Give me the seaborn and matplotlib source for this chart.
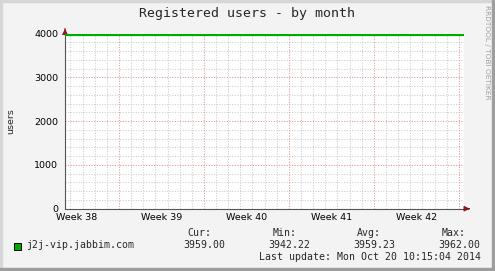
import matplotlib
matplotlib.use("Agg")
import matplotlib.pyplot as plt
import seaborn as sns
import pandas as pd
import numpy as np
from matplotlib.patches import Rectangle

# ---- data (days relative to Mon 2014-09-22 00:00) ----
avg_days = [-4.45, -3.0, -1.0, 1.0, 4.0, 7.0, 10.0, 13.0, 15.5, 17.0, 20.0, 23.0, 24.5, 26.0, 28.43]
avg_vals = [3956, 3957, 3958, 3958, 3958, 3959, 3959, 3960, 3960, 3960, 3960, 3961, 3962, 3960, 3959]

max_days = [-4.45, 15.40, 15.60, 16.70, 16.90, 24.40, 24.95, 28.43]
max_vals = [3962, 4012, 3962, 4012, 3962, 4012, 3962, 3962]

week_starts = [0, 7, 14, 21, 28]
week_labels = ["Week 38", "Week 39", "Week 40", "Week 41", "Week 42"]
week_label_pos = [-3.5, 3.5, 10.5, 17.5, 24.5]

y_ticks = [0, 1000, 2000, 3000, 4000]
series_name = "j2j-vip.jabbim.com"
stat_headers = ["Cur:", "Min:", "Avg:", "Max:"]
stat_values = ["3959.00", "3942.22", "3959.23", "3962.00"]
last_update = "Last update: Mon Oct 20 10:15:04 2014"
title = "Registered users - by month"
x_min, x_max = -4.45, 28.43

W, H = 495, 271
sns.set_style("white")
plt.rcParams['font.family'] = ['DejaVu Sans']
fig = plt.figure(figsize=(W / 100, H / 100), dpi=100)
fig.patch.set_facecolor("#F3F3F3")

def fx(px):
    return px / W

def fy(py):
    return 1 - py / H

# frame
fig.patches.append(Rectangle((0, 0), fx(2), 1, transform=fig.transFigure, color="#D6D6D6", zorder=0))
fig.patches.append(Rectangle((0, fy(2)), 1, 2 / H, transform=fig.transFigure, color="#D6D6D6", zorder=0))
fig.patches.append(Rectangle((fx(492), 0), fx(3), 1, transform=fig.transFigure, color="#9E9E9E", zorder=0))
fig.patches.append(Rectangle((0, 0), 1, 3 / H, transform=fig.transFigure, color="#9E9E9E", zorder=0))

ax_l, ax_r, ax_t, ax_b = 65, 464, 33.5, 208.7
ax = fig.add_axes([fx(ax_l), fy(ax_b), fx(ax_r - ax_l), (ax_b - ax_t) / H])
ax.set_facecolor("white")

# grid
minor_c = "#CCCCCC"
major_c = "#F09090"
dot = (0, (1, 1.5))
for d in range(-4, 29):
    if d in week_starts:
        continue
    ax.axvline(d, color=minor_c, lw=0.75, ls=dot, zorder=1)
for v in range(200, 4001, 200):
    if v % 1000 == 0:
        continue
    ax.axhline(v, color=minor_c, lw=0.75, ls=dot, zorder=1)
for d in week_starts:
    ax.axvline(d, color=major_c, lw=0.75, ls=dot, zorder=1.5)
for v in y_ticks[1:]:
    ax.axhline(v, color=major_c, lw=0.75, ls=dot, zorder=1.5)

df_max = pd.DataFrame({"day": max_days, "users": max_vals})
df_avg = pd.DataFrame({"day": avg_days, "users": avg_vals})
sns.lineplot(data=df_max, x="day", y="users", ax=ax, color="#00FF00", lw=1.6,
             drawstyle="steps-post", zorder=3)
sns.lineplot(data=df_avg, x="day", y="users", ax=ax, color="#00AA00", lw=1.5,
             drawstyle="steps-post", zorder=4)

ax.set_xlim(x_min, x_max)
ax.set_ylim(0, 4000)
for s in ["top", "right"]:
    ax.spines[s].set_visible(False)
for s in ["left", "bottom"]:
    ax.spines[s].set_color("#555555")
    ax.spines[s].set_linewidth(0.8)
    ax.spines[s].set_clip_on(False)
ax.spines["bottom"].set_bounds(x_min, x_max + 0.3)
ax.spines["left"].set_bounds(0, 4090)

ax.set_yticks(y_ticks)
ax.set_yticklabels([str(v) for v in y_ticks], fontsize=6.8, color="black")
ax.set_xticks(week_label_pos)
ax.set_xticklabels(week_labels, fontsize=6.8, color="black")
ax.tick_params(axis="x", length=0, pad=3)
ax.tick_params(axis="y", length=2, width=0.8, color="#555555", pad=3)
ax.set_xlabel("")
ax.set_ylabel("users", fontsize=6.8)
ax.yaxis.set_label_coords(-(65 - 15) / (ax_r - ax_l), 0.5)

# arrows
ax.annotate("", xy=(x_max + 0.7, 0), xytext=(x_max + 0.2, 0),
            arrowprops=dict(arrowstyle="-|>", color="#8B1A1A", lw=0.8, mutation_scale=8),
            annotation_clip=False)
ax.annotate("", xy=(x_min, 4170), xytext=(x_min, 4040),
            arrowprops=dict(arrowstyle="-|>", color="#8B1A1A", lw=0.8, mutation_scale=8),
            annotation_clip=False)

mono = "DejaVu Sans Mono"
fig.text(fx(247), fy(14), title, ha="center", va="center", fontsize=9.5, family=mono)
fig.text(fx(487.5), fy(5), "RRDTOOL / TOBI OETIKER", rotation=270, ha="center", va="top",
         fontsize=5.3, color="#A0A0A0")

# legend
fig.patches.append(Rectangle((fx(13.5), fy(249.5)), fx(7), 7 / H, transform=fig.transFigure,
                             facecolor="#00AA00", edgecolor="black", lw=0.7, zorder=5))
fig.text(fx(26.5), fy(245.5), series_name, ha="left", va="center", fontsize=7.1, family=mono)
head_right = [211.7, 296.7, 381, 466]
val_right = [225, 310, 395, 480]
for h, v, hr, vr in zip(stat_headers, stat_values, head_right, val_right):
    fig.text(fx(hr), fy(233.5), h, ha="right", va="center", fontsize=7.1, family=mono)
    fig.text(fx(vr), fy(245.5), v, ha="right", va="center", fontsize=7.1, family=mono)
fig.text(fx(481), fy(257.3), last_update, ha="right", va="center", fontsize=7.1, family=mono)

fig.savefig("out.png", dpi=100, facecolor=fig.get_facecolor())
